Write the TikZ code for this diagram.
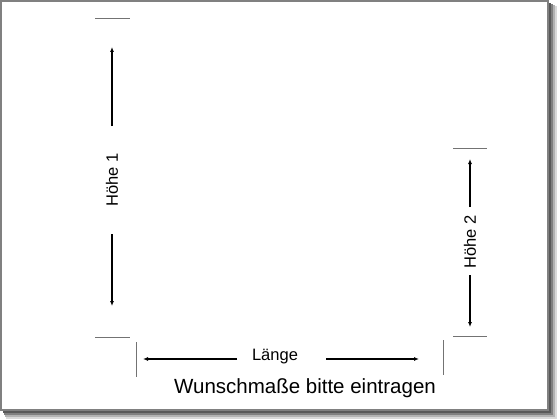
\documentclass[tikz,border=0pt]{standalone}
\usepackage{fontspec}
\setmainfont{Liberation Sans}
\usetikzlibrary{arrows.meta}
\tikzset{
  tick/.style={draw=black!55, line width=1pt},
  dimarrow/.style={draw=black, line width=1.4pt, -{Latex[length=5pt,width=4pt]}},
  dimlabel/.style={font=\fontsize{16.5}{19}\selectfont, inner sep=1pt},
}
\begin{document}
\begin{tikzpicture}[x=1pt, y=-1pt]
\useasboundingbox (0,0) rectangle (560,420);
\fill[black!15] (6,6) rectangle (557,419);
\fill[black!30] (5,5) rectangle (555,417);
\fill[black!50] (4,4) rectangle (553,415);
\fill[black!65] (3,3) rectangle (551,413);
\filldraw[fill=white, draw=black!50, line width=1.5pt] (1,1) rectangle (548,410);

\node[dimlabel, rotate=90] (h1) at (112, 180) {Höhe 1};
\node[dimlabel, rotate=90] (h2) at (470, 242) {Höhe 2};
\node[dimlabel] (len) at (275, 357) {Länge};
\node[font=\fontsize{20.5}{24}\selectfont] (wish) at (305, 388) {Wunschmaße bitte eintragen};

\coordinate (t1a) at (95, 19);
\coordinate (t1b) at (130, 19);
\coordinate (t2a) at (95, 337);
\coordinate (t2b) at (130, 337);
\coordinate (t3a) at (453, 148);
\coordinate (t3b) at (487, 148);
\coordinate (t4a) at (453, 336);
\coordinate (t4b) at (487, 336);
\coordinate (t5a) at (136, 342);
\coordinate (t5b) at (136, 377);
\coordinate (t6a) at (443, 340);
\coordinate (t6b) at (443, 375);

\coordinate (a1s) at (112, 126);
\coordinate (a1e) at (112, 47);
\coordinate (a2s) at (112, 234);
\coordinate (a2e) at (112, 306);
\coordinate (a3s) at (470, 207);
\coordinate (a3e) at (470, 159);
\coordinate (a4s) at (470, 275);
\coordinate (a4e) at (470, 327);
\coordinate (a5s) at (237, 359);
\coordinate (a5e) at (143, 359);
\coordinate (a6s) at (326, 359);
\coordinate (a6e) at (419, 359);

\draw[tick] (t1a) -- (t1b);
\draw[tick] (t2a) -- (t2b);
\draw[tick] (t3a) -- (t3b);
\draw[tick] (t4a) -- (t4b);
\draw[tick] (t5a) -- (t5b);
\draw[tick] (t6a) -- (t6b);

\draw[dimarrow] (a1s) -- (a1e);
\draw[dimarrow] (a2s) -- (a2e);
\draw[dimarrow] (a3s) -- (a3e);
\draw[dimarrow] (a4s) -- (a4e);
\draw[dimarrow] (a5s) -- (a5e);
\draw[dimarrow] (a6s) -- (a6e);
\end{tikzpicture}
\end{document}
